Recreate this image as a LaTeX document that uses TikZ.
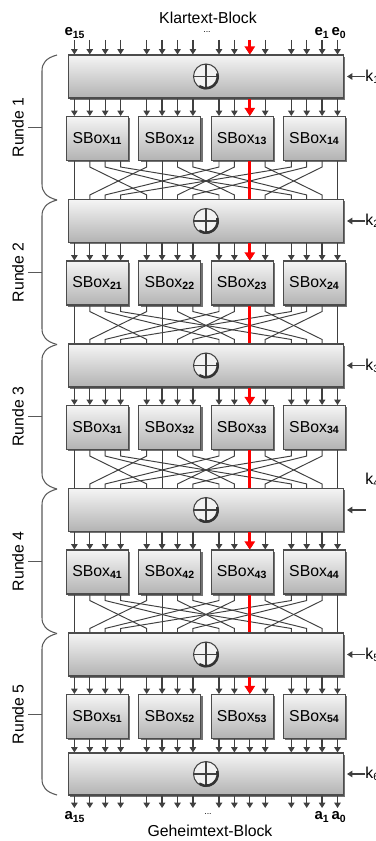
\documentclass[tikz,border=0pt]{standalone}
\usepackage{fontspec}
\setmainfont{Liberation Sans}
\usetikzlibrary{positioning, arrows.meta, calc, shadows}

\begin{document}
\begin{tikzpicture}[
    x=0.02cm, y=-0.02cm,
    % Style definitions
    xorbox/.style={
        rectangle, draw=black!70, line width=0.6pt,
        top color=black!4, bottom color=black!30,
        minimum width=5.5cm, minimum height=0.86cm,
        drop shadow={shadow xshift=1pt, shadow yshift=-1pt, fill=black!55, opacity=1}
    },
    sbox/.style={
        xorbox, minimum width=1.18cm, minimum height=0.88cm,
        font=\fontsize{9}{10}\selectfont
    },
    xorsym/.style={
        circle, draw=black!75, line width=0.6pt, fill=black!5,
        minimum size=0.5cm, inner sep=0pt,
        path picture={
            \draw[black!75, line width=0.6pt]
                (path picture bounding box.north) -- (path picture bounding box.south)
                (path picture bounding box.west) -- (path picture bounding box.east);
        }
    },
    bitarrow/.style={
        -{Triangle[length=3pt, width=3.6pt]}, draw=black!75, line width=0.7pt
    },
    redarrow/.style={
        -{Triangle[length=4.6pt, width=5.8pt]}, draw=red, line width=1.6pt
    },
    wire/.style={draw=black!75, line width=0.55pt},
    redwire/.style={draw=red, line width=1.6pt},
    roundbrace/.style={draw=black!65, line width=0.6pt},
    roundlabel/.style={font=\fontsize{9}{10}\selectfont, rotate=90},
    bitlabel/.style={font=\fontsize{8.5}{9}\selectfont\bfseries},
    dotlabel/.style={font=\tiny},
    blocklabel/.style={font=\fontsize{9}{10}\selectfont},
]

\useasboundingbox (0,0) rectangle (375,841);

% Bit column positions (group, position)
\def\colA{97.5}
\def\colStep{72.3}
\def\bitStep{15.4}
\def\rowH{144.5}

% === XOR boxes ===
\foreach \r in {1,...,5} {
    \pgfmathsetmacro\ty{76.5+\rowH*(\r-1)}
    \node[xorbox] (x\r) at (206,\ty) {};
    \node[xorsym] (p\r) at (x\r) {};
    \draw[black!80, line width=1.4pt]
        ($(p\r.center)+(15:0.235cm)$) arc[start angle=15, end angle=-125, radius=0.235cm];
}
\node[xorbox, minimum height=0.84cm] (x6) at (206,774) {};
\node[xorsym] (p6) at (x6) {};
\draw[black!80, line width=1.4pt]
    ($(p6.center)+(15:0.235cm)$) arc[start angle=15, end angle=-125, radius=0.235cm];

% === SBoxes ===
\foreach \r in {1,...,5} {
    \foreach \g in {1,...,4} {
        \pgfmathsetmacro\sx{\colA+\colStep*(\g-1)}
        \pgfmathsetmacro\sy{138.5+\rowH*(\r-1)}
        \node[sbox] (s\r\g) at (\sx,\sy) {SBox\textsubscript{\textbf{\r\g}}};
    }
}

% === Plaintext bits into the first XOR ===
\foreach \g in {0,...,3} {
    \foreach \p in {0,...,3} {
        \pgfmathsetmacro\bx{\colA+\colStep*\g+\bitStep*(\p-1.5)}
        \coordinate (in\g\p) at (\bx,40);
        \draw[bitarrow] (in\g\p) -- (in\g\p |- x1.north);
    }
}
\draw[redarrow] (in22) -- (in22 |- x1.north);

% === XOR -> SBox arrows ===
\foreach \r in {1,...,5} {
    \foreach \g in {0,...,3} {
        \foreach \p in {0,...,3} {
            \pgfmathsetmacro\bx{\colA+\colStep*\g+\bitStep*(\p-1.5)}
            \draw[bitarrow] (\bx,0 |- x\r.south) -- (\bx,0 |- s\r1.north);
        }
    }
    \draw[redarrow] (in22 |- x\r.south) -- (in22 |- s\r1.north);
}

% === Permutation layers ===
\foreach \r in {1,...,4} {
    \pgfmathtruncatemacro\nr{\r+1}
    \foreach \g in {0,...,3} {
        \foreach \p in {0,...,3} {
            \pgfmathsetmacro\ax{\colA+\colStep*\g+\bitStep*(\p-1.5)}
            \pgfmathsetmacro\bx{\colA+\colStep*\p+\bitStep*(\g-1.5)}
            \draw[wire] (\ax,0 |- s\r1.south) -- ++(0,6)
                -- ($(\bx,0 |- x\nr.north)+(0,-4)$) -- (\bx,0 |- x\nr.north);
        }
    }
    \draw[redwire] (in22 |- s\r1.south) -- (in22 |- x\nr.north);
}

% === Last SBoxes -> final XOR, ciphertext bits ===
\foreach \g in {0,...,3} {
    \foreach \p in {0,...,3} {
        \pgfmathsetmacro\bx{\colA+\colStep*\g+\bitStep*(\p-1.5)}
        \coordinate (out\g\p) at (\bx,808);
        \draw[bitarrow] (\bx,0 |- s51.south) -- (\bx,0 |- x6.north);
        \draw[bitarrow] (out\g\p |- x6.south) -- (out\g\p);
    }
}

% === Round keys ===
\foreach \r in {1,2,3,5,6} {
    \node[blocklabel, anchor=west, inner sep=0pt] (k\r) at (365,0 |- x\r) {k\textsubscript{\r}};
    \draw[bitarrow] (k\r.west) -- ($(x\r.east)+(3,0)$);
}
\node[blocklabel, anchor=west, inner sep=0pt] (k4) at (365,480) {k\textsubscript{4}};
\coordinate (k4in) at (366,0 |- x4);
\draw[bitarrow] (k4in) -- ($(x4.east)+(3,0)$);

% === Block labels ===
\node[blocklabel] (plain) at (208,18) {Klartext-Block};
\node[blocklabel] (cipher) at (210,831) {Geheimtext-Block};
\node[bitlabel] (e15) at (75,33) {e\textsubscript{15}};
\node[bitlabel] (e1) at (322,33) {e\textsubscript{1}};
\node[bitlabel] (e0) at (339,33) {e\textsubscript{0}};
\node[dotlabel] (edots) at (207,32) {...};
\node[bitlabel] (a15) at (75,817) {a\textsubscript{15}};
\node[bitlabel] (a1) at (322,817) {a\textsubscript{1}};
\node[bitlabel] (a0) at (339,817) {a\textsubscript{0}};
\node[dotlabel] (adots) at (208,814) {...};

% === Round braces (top, bottom in pixels) ===
\foreach \r/\t/\b in {1/55/200, 2/200/344.5, 3/344.5/489, 4/489/633.5, 5/633.5/795} {
    \pgfmathsetmacro\m{(\t+\b)/2}
    \draw[roundbrace] (57,\t) .. controls (46,\t+3) and (42,\t+8) .. (42,\t+16)
        -- (42,\b-16) .. controls (42,\b-8) and (46,\b-3) .. (57,\b);
    \draw[roundbrace] (42,\m) -- (28,\m);
    \node[roundlabel] (rl\r) at (18,\m) {Runde \r};
}

\end{tikzpicture}
\end{document}
